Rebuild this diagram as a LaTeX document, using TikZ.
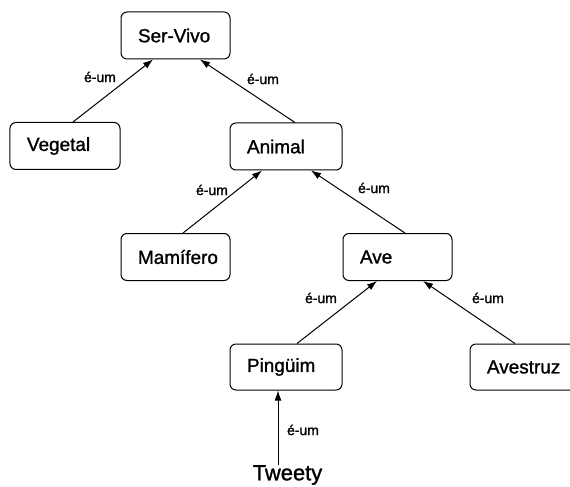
\documentclass[tikz,border=0pt]{standalone}
\usepackage{fontspec}
\setmainfont{Liberation Sans}[FakeBold=1.2]
\newfontfamily\inkfont{Liberation Sans}[FakeBold=1.2]
\usetikzlibrary{arrows.meta}

\tikzset{
  classbox/.style={draw, line width=1bp, rounded corners=6bp,
    minimum height=47bp, inner xsep=17bp, inner ysep=0bp,
    text width=#1, align=left, font=\inkfont\fontsize{19}{22}\selectfont},
  isa/.style={line width=1bp, -{Latex[length=10bp,width=7bp]}},
  isalabel/.style={font=\inkfont\fontsize{14}{16}\selectfont, inner sep=0bp},
}

\begin{document}
\begin{tikzpicture}[x=1bp, y=-1bp]
  \useasboundingbox (0,0) rectangle (570,487);

  % class hierarchy
  \node[classbox=75bp]  (sv)  at (175.5,35.5) {Ser-Vivo};
  \node[classbox=76bp]  (veg) at (65,146)     {Vegetal};
  \node[classbox=78bp]  (ani) at (286,146.5)  {Animal};
  \node[classbox=75bp]  (mam) at (175.5,257)  {Mamífero};
  \node[classbox=75bp]  (ave) at (397.5,257)  {Ave};
  \node[classbox=78bp, minimum height=46bp] (pin) at (286,367) {Pingüim};
  \node[classbox=76bp, minimum height=46bp] (avs) at (525,367) {Avestruz};

  % the instance
  \node[font=\inkfont\fontsize{22}{26}\selectfont, inner sep=0bp, anchor=north] (tw) at (287.5,465) {Tweety};
  \coordinate (twtop) at (278,465);

  % is-a links
  \draw[isa] ([xshift=8bp]veg.north)  -- ([xshift=-22.5bp]sv.south);
  \draw[isa] ([xshift=9bp]ani.north)  -- ([xshift=24.5bp]sv.south);
  \draw[isa] ([xshift=7.5bp]mam.north) -- ([xshift=-24bp]ani.south);
  \draw[isa] ([xshift=7.5bp]ave.north) -- ([xshift=25bp]ani.south);
  \draw[isa] ([xshift=11bp]pin.north) -- ([xshift=-20.5bp]ave.south);
  \draw[isa] ([xshift=-10bp]avs.north) -- ([xshift=25.5bp]ave.south);
  \draw[isa] (twtop) -- (twtop |- pin.south);

  % link labels
  \node[isalabel] (l1) at (100,77)  {é-um};
  \node[isalabel] (l2) at (263,79)  {é-um};
  \node[isalabel] (l3) at (212,190) {é-um};
  \node[isalabel] (l4) at (374,188) {é-um};
  \node[isalabel] (l5) at (321,298) {é-um};
  \node[isalabel] (l6) at (488,298) {é-um};
  \node[isalabel] (l7) at (303,430) {é-um};
\end{tikzpicture}
\end{document}
